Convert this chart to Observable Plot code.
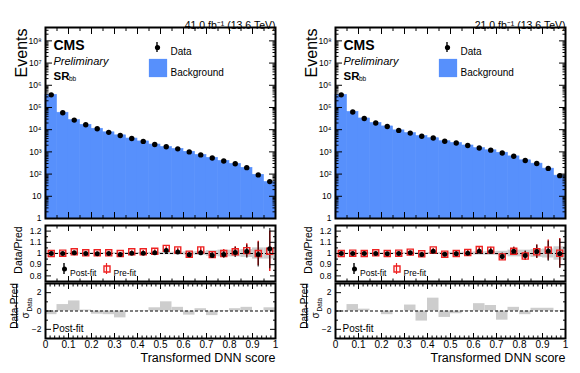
<!DOCTYPE html>
<html><head><meta charset="utf-8">
<script src="https://cdn.jsdelivr.net/npm/d3@7"></script>
<script src="https://cdn.jsdelivr.net/npm/@observablehq/plot@0.6"></script>
<style>
body{margin:0;background:#fff;}
#root{position:relative;width:580px;height:373px;overflow:hidden;background:#fff;}
#root svg{position:absolute;}
</style></head>
<body><div id="root"></div>
<script>
// ---- bins ----
const binLo = [0,0.05,0.1,0.15,0.2,0.25,0.3,0.35,0.4,0.45,0.5,0.55,0.6,0.65,0.7,0.75,0.8,0.85,0.9,0.95];
const binHi = [0.05,0.1,0.15,0.2,0.25,0.3,0.35,0.4,0.45,0.5,0.55,0.6,0.65,0.7,0.75,0.8,0.85,0.9,0.95,1];
const binCenter = [0.025,0.075,0.125,0.175,0.225,0.275,0.325,0.375,0.425,0.475,0.525,0.575,0.625,0.675,0.725,0.775,0.825,0.875,0.925,0.975];

// ---- left panel (41.0 fb-1) ----
const lumiL = "41.0 fb⁻¹ (13.6 TeV)";
const dataL = [370000,58000,27000,16600,11000,7600,5500,4000,2970,2150,1700,1370,1000,730,530,390,290,195,92,46];
const bkgL  = [370000,58000,26800,16600,11000,7600,5560,3990,2960,2140,1660,1350,1010,726,539,394,287,192,93,44];
const ratioPostL = [1.0,1.0,1.006,1.0,0.997,1.0,0.99,1.003,1.003,1.006,1.026,1.014,0.988,1.006,0.983,0.99,1.01,1.017,0.99,1.043];
const ratioPreL  = [1.0,1.003,1.015,1.006,1.006,1.006,1.0,1.015,1.015,1.02,1.046,1.032,0.994,1.032,0.99,1.0,1.015,1.026,1.0,1.02];
const errPostL = [0.003,0.004,0.005,0.006,0.007,0.008,0.009,0.01,0.012,0.013,0.015,0.017,0.02,0.022,0.027,0.035,0.045,0.06,0.11,0.18];
const errPreL  = [0.003,0.004,0.005,0.006,0.007,0.008,0.009,0.01,0.012,0.013,0.015,0.017,0.02,0.022,0.027,0.035,0.045,0.06,0.11,0.18];
const bandL = [0.004,0.004,0.005,0.005,0.006,0.006,0.007,0.008,0.009,0.01,0.011,0.012,0.014,0.016,0.025,0.03,0.03,0.035,0.05,0.05];
const pullL = [-0.4,0.7,1.1,0.1,-0.35,-0.4,-0.75,0.0,0.05,0.35,1.0,0.4,-0.45,0.25,-0.5,-0.05,0.25,0.4,0.0,0.35];

// ---- right panel (21.0 fb-1) ----
const lumiR = "21.0 fb⁻¹ (13.6 TeV)";
const dataR = [370000,63000,32000,20000,14000,9300,7000,5100,4200,3000,2500,1950,1500,1200,890,640,410,300,180,85];
const bkgR  = [370000,63000,32000,20000,14000,9300,6960,5150,4120,3020,2510,1940,1470,1180,914,627,417,295,176,85];
const ratioPostR = [1.0,1.0,1.0,1.0,0.997,1.0,1.006,0.99,1.02,0.994,0.997,1.003,1.02,1.017,0.974,1.02,0.983,1.017,1.02,0.997];
const ratioPreR  = [1.0,1.003,1.0,1.006,1.0,1.003,1.012,0.997,1.032,0.994,1.0,1.009,1.035,1.03,0.97,1.02,0.977,1.015,1.03,1.003];
const errPostR = [0.003,0.004,0.005,0.006,0.007,0.008,0.01,0.011,0.012,0.014,0.016,0.018,0.021,0.025,0.03,0.035,0.04,0.06,0.09,0.13];
const errPreR  = [0.003,0.004,0.005,0.006,0.007,0.008,0.01,0.011,0.012,0.014,0.016,0.018,0.021,0.025,0.03,0.035,0.04,0.06,0.09,0.13];
const bandR = [0.004,0.004,0.005,0.005,0.006,0.006,0.007,0.008,0.009,0.01,0.011,0.012,0.014,0.016,0.02,0.03,0.03,0.035,0.04,0.06];
const pullR = [-0.1,0.7,0.2,0.0,-0.4,0.0,0.65,-1.1,1.4,-0.7,-0.3,0.05,0.8,0.6,-1.0,0.4,-0.4,0.3,0.3,0.05];

// ---- tick labels ----
const yMainTicks = [1,10,100,1e3,1e4,1e5,1e6,1e7,1e8];
const yMainLabels = ["1","10","10²","10³","10⁴","10⁵","10⁶","10⁷","10⁸"];
const yRatioTicks = [0.8,0.9,1,1.1,1.2];
const yRatioLabels = ["0.8","0.9","1","1.1","1.2"];
const yPullTicks = [-2,0,2];
const yPullLabels = ["−2","0","2"];
const xTicks = [0,0.1,0.2,0.3,0.4,0.5,0.6,0.7,0.8,0.9,1];
const xLabels = ["0","0.1","0.2","0.3","0.4","0.5","0.6","0.7","0.8","0.9","1"];

const BLUE = "#5790fc";
const RED = "#ee2222";
const GREY = "#cdcdcd";
const FONT = '"Liberation Sans", Arial, Helvetica, sans-serif';
const style = {fontFamily: FONT, fontSize: "9px", color: "#000", background: "transparent", overflow: "visible"};
const root = document.getElementById("root");
const idx = d3.range(binCenter.length);
const lookup = (ticks, labels) => d => labels[ticks.findIndex(t => Math.abs(t - d) < 1e-9)];

function range(a, b, s) { const out = []; for (let v = a; v <= b + 1e-9; v += s) out.push(+v.toFixed(4)); return out; }
const logMinor = [];
for (let k = 0; k <= 8; k++) for (let m = 2; m <= 9; m++) { const v = m * Math.pow(10, k); if (v < 4e8) logMinor.push(v); }

function tickMarks(axis, major, minor, majLen, minLen) {
  const A = axis === "x" ? Plot.axisX : Plot.axisY;
  const anchors = axis === "x" ? ["bottom", "top"] : ["left", "right"];
  const out = [];
  for (const a of anchors) {
    out.push(A(major, {anchor: a, tickSize: -majLen, tickFormat: () => "", label: null}));
    out.push(A(minor, {anchor: a, tickSize: -minLen, tickFormat: () => "", label: null}));
  }
  return out;
}
function txt(s, o) { return Plot.text([s], {text: d => d, frameAnchor: "top-left", textAnchor: "start", ...o}); }
function place(svg, left, top) { svg.style.left = left + "px"; svg.style.top = top + "px"; root.appendChild(svg); return svg; }
function line(svg, x1, y1, x2, y2, color, w) {
  d3.select(svg).append("line").attr("x1", x1).attr("y1", y1).attr("x2", x2).attr("y2", y2)
    .attr("stroke", color).attr("stroke-width", w);
}

function panel(P, left) {
  // main histogram
  const main = Plot.plot({
    width: 290, height: 220, marginLeft: 45, marginRight: 15, marginTop: 27, marginBottom: 2,
    x: {domain: [0, 1]}, y: {type: "log", domain: [1, 4e8]}, style,
    marks: [
      Plot.rect(idx, {x1: i => binLo[i], x2: i => binHi[i], y1: 1, y2: i => P.bkg[i], fill: BLUE, stroke: BLUE, strokeWidth: 0.6}),
      Plot.dot(idx, {x: i => binCenter[i], y: i => P.data[i], r: 2.7, fill: "#000"}),
      ...tickMarks("x", xTicks, range(0.05, 0.95, 0.1), 6, 3),
      ...tickMarks("y", yMainTicks, logMinor, 7, 3.5),
      Plot.axisY(yMainTicks, {anchor: "left", tickSize: 0, tickPadding: 4, tickFormat: lookup(yMainTicks, yMainLabels), label: null, fontSize: 8.5}),
      Plot.frame({strokeWidth: 2}),
      txt(P.lumi, {frameAnchor: "top-right", textAnchor: "end", dy: -5.5, fontSize: 10.5}),
      txt("Events", {dx: -30, dy: 1, rotate: -90, textAnchor: "end", fontSize: 16}),
      txt("CMS", {dx: 8, dy: 13, fontSize: 14, fontWeight: "bold"}),
      txt("Preliminary", {dx: 8, dy: 29.5, fontSize: 11, fontStyle: "italic"}),
      txt("SR", {dx: 8, dy: 44.5, fontSize: 11.5, fontWeight: "bold"}),
      txt("bb", {dx: 23.5, dy: 49, fontSize: 6.5}),
      Plot.dot([0], {frameAnchor: "top-left", dx: 112, dy: 20, r: 2.6, fill: "#000"}),
      txt("Data", {dx: 125, dy: 20.5, fontSize: 10}),
      Plot.dot([0], {frameAnchor: "top-left", dx: 112.5, dy: 40.5, symbol: "square", r: 10.3, fill: BLUE}),
      txt("Background", {dx: 125, dy: 41.5, fontSize: 10})
    ]
  });
  place(main, left, 0);
  line(main, 157, 42, 157, 52, "#000", 1.4);

  // ratio
  const ratio = Plot.plot({
    width: 290, height: 62, marginLeft: 45, marginRight: 15, marginTop: 5, marginBottom: 1,
    x: {domain: [0, 1]}, y: {domain: [0.75, 1.25]}, style,
    marks: [
      Plot.rect(idx, {x1: i => binLo[i], x2: i => binHi[i], y1: i => 1 - P.band[i], y2: i => 1 + P.band[i], fill: GREY}),
      Plot.ruleY([1], {stroke: "#000", strokeWidth: 1, strokeDasharray: "3,2"}),
      Plot.ruleX(idx, {x: i => binCenter[i], y1: i => P.pre[i] - P.errPre[i], y2: i => P.pre[i] + P.errPre[i], stroke: RED, strokeWidth: 1.5}),
      Plot.ruleX(idx, {x: i => binCenter[i], y1: i => P.post[i] - P.errPost[i], y2: i => P.post[i] + P.errPost[i], stroke: "#000", strokeWidth: 1.5, strokeOpacity: 0.65}),
      Plot.dot(idx, {x: i => binCenter[i], y: i => P.pre[i], symbol: "square", r: 3.4, stroke: RED, strokeWidth: 1.4, fill: "none"}),
      Plot.dot(idx, {x: i => binCenter[i], y: i => P.post[i], r: 2.5, fill: "#000"}),
      ...tickMarks("x", xTicks, range(0.05, 0.95, 0.1), 5, 2.5),
      ...tickMarks("y", yRatioTicks, [0.75, 0.85, 0.95, 1.05, 1.15, 1.25], 6, 3),
      Plot.axisY(yRatioTicks, {anchor: "left", tickSize: 0, tickPadding: 4, tickFormat: lookup(yRatioTicks, yRatioLabels), label: null, fontSize: 8.5}),
      Plot.frame({strokeWidth: 2}),
      txt("Data/Pred", {frameAnchor: "left", dx: -26.5, dy: -3.5, rotate: -90, textAnchor: "middle", fontSize: 10.5}),
      Plot.dot([0], {frameAnchor: "top-left", dx: 19, dy: 43.5, r: 2.5, fill: "#000"}),
      txt("Post-fit", {dx: 24.5, dy: 44, fontSize: 8.5}),
      Plot.dot([0], {frameAnchor: "top-left", dx: 61.5, dy: 43.5, symbol: "square", r: 3.4, stroke: RED, strokeWidth: 1.4, fill: "none"}),
      txt("Pre-fit", {dx: 68, dy: 44, fontSize: 8.5})
    ]
  });
  place(ratio, left, 220);
  line(ratio, 64, 43, 64, 54, "#000", 1.4);
  line(ratio, 106.5, 43, 106.5, 54, RED, 1.2);

  // pull
  const pull = Plot.plot({
    width: 290, height: 92, marginLeft: 45, marginRight: 15, marginTop: 2, marginBottom: 35,
    x: {domain: [0, 1]}, y: {domain: [-3, 3]}, style,
    marks: [
      Plot.rect(idx, {x1: i => binLo[i], x2: i => binHi[i], y1: 0, y2: i => P.pull[i], fill: GREY}),
      Plot.ruleY([0], {stroke: "#000", strokeWidth: 1, strokeDasharray: "3,2"}),
      ...tickMarks("x", xTicks, range(0.02, 0.98, 0.02), 5, 2.5),
      ...tickMarks("y", yPullTicks, [-3, -1, 1, 3], 6, 3),
      Plot.axisY(yPullTicks, {anchor: "left", tickSize: 0, tickPadding: 4, tickFormat: lookup(yPullTicks, yPullLabels), label: null, fontSize: 8.5}),
      Plot.axisX(xTicks, {anchor: "bottom", tickSize: 0, tickPadding: 2, tickFormat: lookup(xTicks, xLabels), label: null, fontSize: 10}),
      Plot.frame({strokeWidth: 2}),
      txt("Post-fit", {dx: 7, dy: 41, fontSize: 10}),
      txt("Transformed DNN score", {frameAnchor: "bottom-right", textAnchor: "end", dy: 23, fontSize: 12.5}),
      txt("Data-Pred", {dx: -34.5, dy: 22.5, rotate: -90, textAnchor: "middle", fontSize: 10}),
      txt("σ", {dx: -24, dy: 32, rotate: -90, textAnchor: "middle", fontSize: 10}),
      txt("Data", {dx: -18.5, dy: 28, rotate: -90, textAnchor: "start", fontSize: 6.5})
    ]
  });
  place(pull, left, 281);
  line(pull, 16.5, 3, 16.5, 46, "#000", 0.9);
}

panel({lumi: lumiL, data: dataL, bkg: bkgL, post: ratioPostL, pre: ratioPreL, errPost: errPostL, errPre: errPreL, band: bandL, pull: pullL}, 0);
panel({lumi: lumiR, data: dataR, bkg: bkgR, post: ratioPostR, pre: ratioPreR, errPost: errPostR, errPre: errPreR, band: bandR, pull: pullR}, 290);
</script>
</body></html>
